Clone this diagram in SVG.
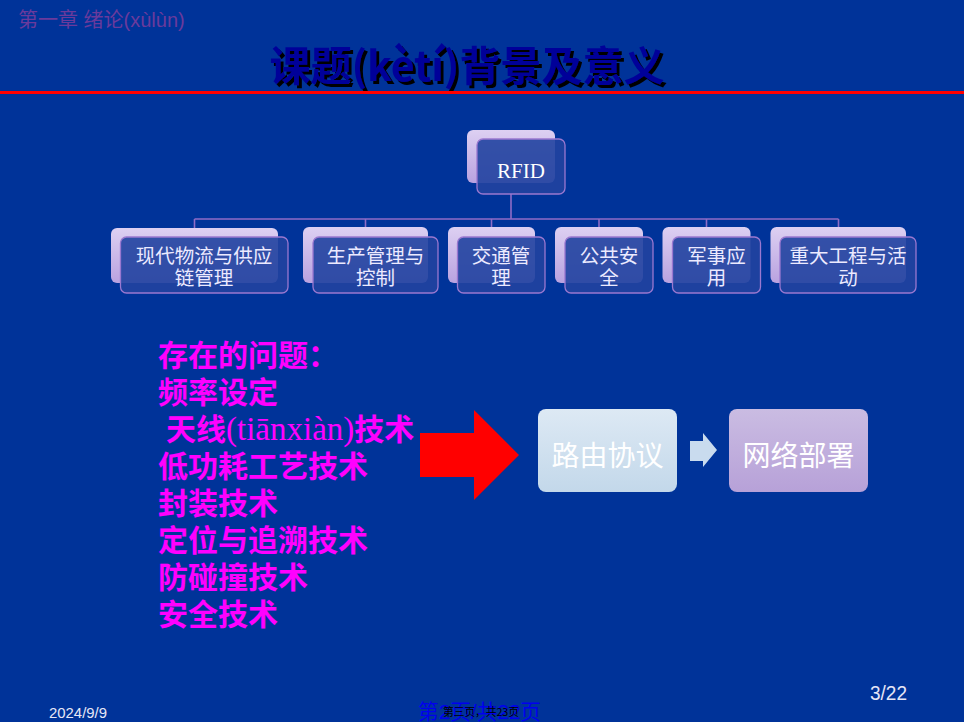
<svg xmlns="http://www.w3.org/2000/svg" width="964" height="722" viewBox="0 0 964 722">
<defs>
<linearGradient id="gBack" x1="0" y1="0" x2="0" y2="1">
<stop offset="0" stop-color="#ddd0f2"/>
<stop offset="1" stop-color="#b9a2e0"/>
</linearGradient>
<linearGradient id="gBlue" x1="0" y1="0" x2="0" y2="1">
<stop offset="0" stop-color="#dde9f4"/>
<stop offset="1" stop-color="#c3d8ea"/>
</linearGradient>
<linearGradient id="gPurple" x1="0" y1="0" x2="0" y2="1">
<stop offset="0" stop-color="#cabce2"/>
<stop offset="1" stop-color="#b7a1d8"/>
</linearGradient>
<filter id="shadow" x="-5%" y="-20%" width="110%" height="140%">
<feOffset in="SourceAlpha" dx="3" dy="3" result="off"/>
<feFlood flood-color="#000000"/>
<feComposite in2="off" operator="in" result="sh"/>
<feMerge><feMergeNode in="sh"/><feMergeNode in="SourceGraphic"/></feMerge>
</filter>
<style>
.bk{fill:url(#gBack);}
.fr{fill:#2143a0;fill-opacity:0.9;stroke:#9a78d0;stroke-width:1.3;}
.ct{font-family:"Noto Sans CJK SC","Liberation Sans",sans-serif;font-size:19.5px;fill:#eceaff;text-anchor:middle;}
.mg{font-family:"Noto Sans CJK SC","Liberation Sans",sans-serif;font-size:30px;fill:#ff00ff;font-weight:bold;}
.bt{font-family:"Noto Sans CJK SC","Liberation Sans",sans-serif;font-size:28px;fill:#ffffff;text-anchor:middle;}
.cn{stroke:#8e6cc6;stroke-width:1.6;fill:none;}
</style>
</defs>
<rect x="0" y="0" width="964" height="722" fill="#003399"/>

<text x="18" y="27" font-family="'Liberation Sans','Noto Sans CJK SC',sans-serif" font-size="20" fill="#6a3a9c">第一章 绪论(xùlùn)</text>

<g id="title">
<text x="467" y="81" filter="url(#shadow)" font-family="'Noto Sans CJK SC','Liberation Sans',sans-serif" font-size="41" font-weight="bold" fill="#000099" text-anchor="middle" textLength="395" lengthAdjust="spacingAndGlyphs">课题(kètí)背景及意义</text>
</g>
<rect x="0" y="91" width="964" height="3" fill="#ff0000"/>

<g id="connectors">
<path class="cn" d="M511 194 V219 M194.5 219 H838.5 M194.5 219 V228 M365.5 219 V227 M491.5 219 V227 M599 219 V227 M706.5 219 V227 M838.5 219 V227"/>
</g>

<g id="rfid">
<rect class="bk" x="467" y="130" width="88" height="53" rx="6"/>
<rect class="fr" x="477" y="139" width="88" height="55" rx="6"/>
<text x="521" y="178" font-family="'Liberation Serif','DejaVu Serif',serif" font-size="21" fill="#ffffff" text-anchor="middle">RFID</text>
</g>

<g id="n1">
<rect class="bk" x="111" y="228" width="167" height="55" rx="6"/>
<rect class="fr" x="120.5" y="237" width="167.5" height="56" rx="6"/>
<text class="ct" x="204" y="263">现代物流与供应<tspan x="204" dy="22">链管理</tspan></text>
</g>
<g id="n2">
<rect class="bk" x="303" y="227" width="125" height="56" rx="6"/>
<rect class="fr" x="313" y="237" width="125" height="56" rx="6"/>
<text class="ct" x="375.5" y="263">生产管理与<tspan x="375.5" dy="22">控制</tspan></text>
</g>
<g id="n3">
<rect class="bk" x="448" y="227" width="87" height="56" rx="6"/>
<rect class="fr" x="457.5" y="237" width="87.5" height="56" rx="6"/>
<text class="ct" x="501" y="263">交通管<tspan x="501" dy="22">理</tspan></text>
</g>
<g id="n4">
<rect class="bk" x="555" y="227" width="88" height="56" rx="6"/>
<rect class="fr" x="565" y="237" width="88" height="56" rx="6"/>
<text class="ct" x="609" y="263">公共安<tspan x="609" dy="22">全</tspan></text>
</g>
<g id="n5">
<rect class="bk" x="662.5" y="227" width="88" height="56" rx="6"/>
<rect class="fr" x="672.5" y="237" width="88" height="56" rx="6"/>
<text class="ct" x="716.5" y="263">军事应<tspan x="716.5" dy="22">用</tspan></text>
</g>
<g id="n6">
<rect class="bk" x="770.5" y="227" width="135.5" height="56" rx="6"/>
<rect class="fr" x="780" y="237" width="136" height="56" rx="6"/>
<text class="ct" x="848" y="263">重大工程与活<tspan x="848" dy="22">动</tspan></text>
</g>

<g id="problems">
<text class="mg" x="158" y="366">存在的问题：<tspan x="158" dy="37">频率设定</tspan><tspan x="166" dy="37">天线</tspan><tspan font-family="'Liberation Serif',serif" font-weight="normal" font-size="33">(tiānxiàn)</tspan><tspan>技术</tspan><tspan x="158" dy="37">低功耗工艺技术</tspan><tspan x="158" dy="37">封装技术</tspan><tspan x="158" dy="37">定位与追溯技术</tspan><tspan x="158" dy="37">防碰撞技术</tspan><tspan x="158" dy="37">安全技术</tspan></text>
</g>

<g id="bigArrow">
<polygon points="420,433 474,433 474,410 519,455 474,500 474,477 420,477" fill="#ff0000"/>
</g>

<g id="routing">
<rect x="538" y="409" width="139" height="83" rx="8" fill="url(#gBlue)"/>
<text class="bt" x="607.5" y="466">路由协议</text>
</g>
<g id="connectors2">
<polygon points="690,441 703,441 703,433 717,450 703,467 703,461 690,461" fill="#c9dbee"/>
</g>
<g id="network">
<rect x="729" y="409" width="139" height="83" rx="8" fill="url(#gPurple)"/>
<text class="bt" x="798.5" y="466">网络部署</text>
</g>

<text x="49" y="718" font-family="'Liberation Sans',sans-serif" font-size="15" fill="#e6e6f6" textLength="58" lengthAdjust="spacingAndGlyphs">2024/9/9</text>
<text x="870" y="700" font-family="'Liberation Sans',sans-serif" font-size="20" fill="#e6e6f6" textLength="37" lengthAdjust="spacingAndGlyphs">3/22</text>
<text x="418" y="719" font-family="'Liberation Sans','Noto Sans CJK SC',sans-serif" font-size="21" fill="#0000ee" textLength="123" lengthAdjust="spacingAndGlyphs">第2页/共22页</text>
<text x="443" y="716" font-family="'Noto Sans CJK SC',sans-serif" font-size="11" fill="#000000" textLength="76" lengthAdjust="spacingAndGlyphs">第三页，共23页</text>
</svg>
